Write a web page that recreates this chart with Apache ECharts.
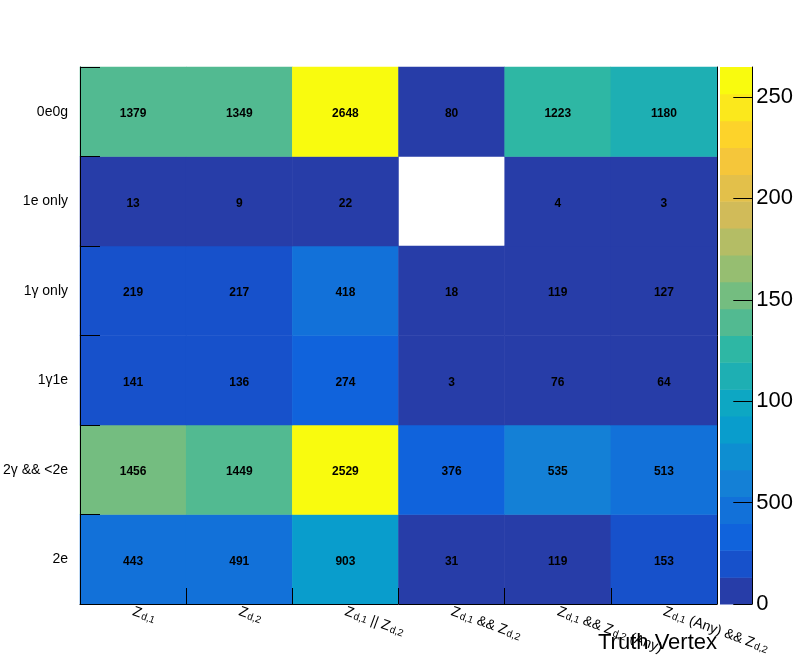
<!DOCTYPE html>
<html>
<head>
<meta charset="utf-8">
<script src="https://cdn.jsdelivr.net/npm/echarts@6/dist/echarts.min.js"></script>
<style>
  html, body { margin: 0; padding: 0; background: #fff; }
  #chart { width: 796px; height: 672px; }
</style>
</head>
<body>
<div id="chart"></div>
<script>
// truth vertex categories (x), reco topology categories (y, bottom to top)
const xCategories = ['Z_{d,1}', 'Z_{d,2}', 'Z_{d,1} || Z_{d,2}', 'Z_{d,1} && Z_{d,2}', 'Z_{d,1} && Z_{d,2} (Any)', 'Z_{d,1} (Any) && Z_{d,2}']
const yCategories = ['2e', '2γ && <2e', '1γ1e', '1γ only', '1e only', '0e0g']

// counts per row, one entry per x category (0 = empty bin, not drawn)
const row2e = [443, 491, 903, 31, 119, 153]
const row2g = [1456, 1449, 2529, 376, 535, 513]
const row1g1e = [141, 136, 274, 3, 76, 64]
const row1g = [219, 217, 418, 18, 119, 127]
const row1e = [13, 9, 22, 0, 4, 3]
const row0e0g = [1379, 1349, 2648, 80, 1223, 1180]
const rows = [row2e, row2g, row1g1e, row1g, row1e, row0e0g]

// colour scale (20 contours, kBird palette)
const zMax = 2648
const paletteColors = [
  '#273da8', '#1751cb', '#1063dc', '#1271d9', '#1480d6',
  '#0e8ed1', '#099dcc', '#0da7c3', '#1eafb3', '#2eb7a4',
  '#52ba91', '#74bd80', '#96be71', '#b4bd65', '#d1bb59',
  '#e3c04a', '#f5c63a', '#fdd32a', '#fbe81c', '#f9fb0e'
]
const cbTickValues = [0, 500, 1000, 1500, 2000, 2500]
const cbTickLabels = ['0', '500', '100', '150', '200', '250']

const heatData = []
rows.forEach((row, yi) => {
  row.forEach((v, xi) => {
    if (v > 0) heatData.push([xi, yi, v])
  })
})

const bandWidth = zMax / paletteColors.length
const pieces = paletteColors.map((c, i) => ({
  gte: i === 0 ? -1 : (i - 0.01) * bandWidth,
  lt: i === paletteColors.length - 1 ? Infinity : (i + 1 - 0.01) * bandWidth,
  color: c
}))

const fontFamily = '"Liberation Sans", Arial, sans-serif'

// turn "Z_{d,1} && Z_{d,2}" into rich text with lowered subscripts
const latexLabel = (s) => {
  const parts = s.split(/_\{([^}]*)\}/)
  let out = ''
  parts.forEach((p, i) => {
    if (p === '') return
    out += i % 2 === 1 ? '{s|' + p + '}' : '{m|' + p + '}'
  })
  return out
}

const chart = echarts.init(document.getElementById('chart'))

chart.setOption({
  animation: false,
  backgroundColor: '#fff',
  textStyle: { fontFamily },
  grid: [
    { left: 79, top: 67, width: 638, height: 537 },
    { left: 720, top: 67, width: 36, height: 537 }
  ],
  xAxis: [
    {
      type: 'category',
      gridIndex: 0,
      data: xCategories,
      z: 10,
      axisLine: { lineStyle: { color: '#000', width: 1 } },
      axisTick: { show: true, interval: 0, inside: true, length: 16, lineStyle: { color: '#000' } },
      splitLine: { show: false },
      axisLabel: {
        interval: 0,
        rotate: -20,
        margin: 7,
        color: '#000',
        formatter: latexLabel,
        rich: {
          m: { fontSize: 14, lineHeight: 14, verticalAlign: 'top', color: '#000', fontFamily },
          s: { fontSize: 10, lineHeight: 10, verticalAlign: 'bottom', padding: [18, 0, 0, 1], color: '#000', fontFamily }
        }
      }
    },
    { type: 'value', gridIndex: 1, min: 0, max: 1, show: false }
  ],
  yAxis: [
    {
      type: 'category',
      gridIndex: 0,
      data: yCategories,
      z: 10,
      axisLine: { lineStyle: { color: '#000', width: 1 } },
      axisTick: { show: true, interval: 0, inside: true, length: 20, lineStyle: { color: '#000' } },
      splitLine: { show: false },
      axisLabel: { interval: 0, margin: 12, fontSize: 14, color: '#000', fontFamily }
    },
    {
      type: 'value',
      gridIndex: 1,
      position: 'right',
      min: 0,
      max: zMax,
      interval: 500,
      z: 10,
      axisLine: { show: true, onZero: false, lineStyle: { color: '#000', width: 1 } },
      axisTick: { show: true, inside: true, length: 19, lineStyle: { color: '#000' } },
      splitLine: { show: false },
      axisLabel: {
        showMaxLabel: false,
        margin: 4,
        fontSize: 22,
        color: '#000',
        fontFamily,
        formatter: (v) => {
          const i = cbTickValues.indexOf(v)
          return i >= 0 ? cbTickLabels[i] : ''
        }
      }
    },
    {
      // right frame edge of the main pad
      type: 'category',
      gridIndex: 0,
      data: yCategories,
      position: 'right',
      z: 10,
      axisLine: { show: true, onZero: false, lineStyle: { color: '#000', width: 1 } },
      axisTick: { show: false },
      axisLabel: { show: false },
      splitLine: { show: false }
    }
  ],
  visualMap: {
    type: 'piecewise',
    show: false,
    seriesIndex: 0,
    dimension: 2,
    pieces
  },
  graphic: [
    {
      type: 'text',
      right: 79,
      top: 632,
      style: { text: 'Truth Vertex', fontSize: 22, fill: '#000', fontFamily }
    }
  ],
  series: [
    {
      type: 'heatmap',
      xAxisIndex: 0,
      yAxisIndex: 0,
      data: heatData,
      z: 1,
      label: {
        show: true,
        offset: [0, 2],
        formatter: (p) => p.value[2],
        fontSize: 12,
        fontWeight: 'bold',
        color: '#000',
        fontFamily
      },
      emphasis: { disabled: true }
    },
    {
      // colour bar, one box per contour band
      type: 'custom',
      xAxisIndex: 1,
      yAxisIndex: 1,
      z: 1,
      data: paletteColors.map((c, i) => [i]),
      renderItem: (params, api) => {
        const i = api.value(0)
        const p1 = api.coord([0, i * bandWidth])
        const p2 = api.coord([1, (i + 1) * bandWidth])
        return {
          type: 'rect',
          shape: { x: p1[0], y: p2[1], width: p2[0] - p1[0], height: p1[1] - p2[1] + 0.5 },
          style: { fill: paletteColors[i] }
        }
      }
    }
  ]
})
</script>
</body>
</html>
